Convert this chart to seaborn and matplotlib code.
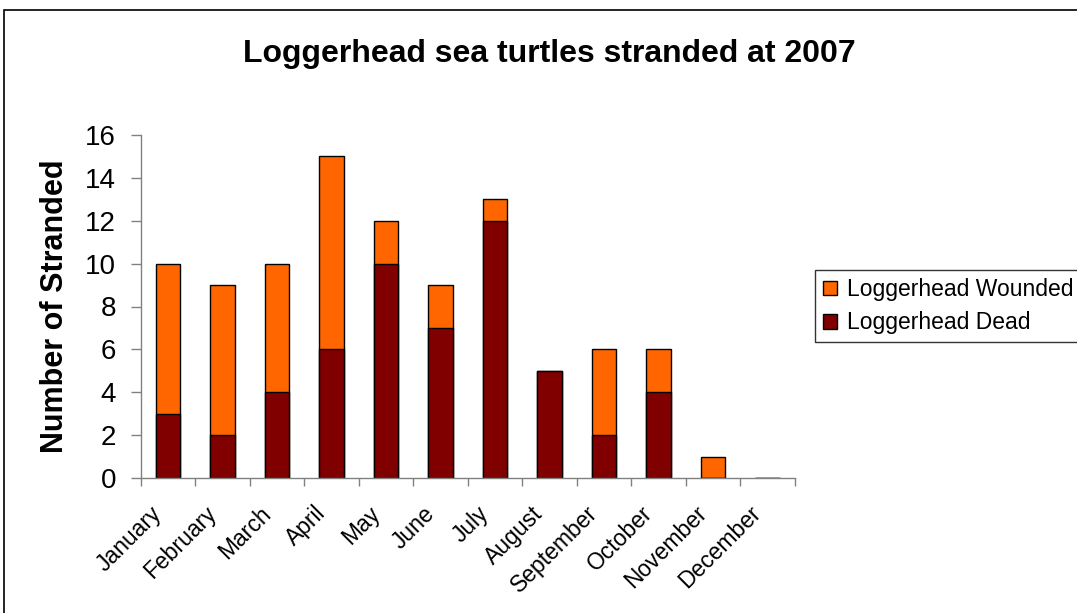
import matplotlib
matplotlib.use('Agg')
import matplotlib.pyplot as plt
import matplotlib.patches as mpatches
from matplotlib.transforms import ScaledTranslation
import seaborn as sns
import pandas as pd

# Data
months = ['January', 'February', 'March', 'April', 'May', 'June', 'July',
          'August', 'September', 'October', 'November', 'December']
dead = [3, 2, 4, 6, 10, 7, 12, 5, 2, 4, 0, 0]
wounded = [7, 7, 6, 9, 2, 2, 1, 0, 4, 2, 1, 0]

df = pd.DataFrame({'month': months, 'dead': dead, 'wounded': wounded})
df['total'] = df['dead'] + df['wounded']

sns.set_style('white')
plt.rcParams['font.family'] = ['Liberation Sans', 'DejaVu Sans']
plt.rcParams['text.color'] = 'black'
plt.rcParams['xtick.color'] = 'black'
plt.rcParams['ytick.color'] = 'black'
plt.rcParams['axes.labelcolor'] = 'black'

orange = '#FF6600'
maroon = '#800000'

fig = plt.figure(figsize=(10.77, 6.13), dpi=100)
ax = fig.add_axes([0.1309, 0.2202, 0.6072, 0.5596])

# stacked bars: draw totals first, then dead on top of it
sns.barplot(data=df, x='month', y='total', color=orange, edgecolor='black',
            linewidth=1, width=0.45, saturation=1, ax=ax)
sns.barplot(data=df, x='month', y='dead', color=maroon, edgecolor='black',
            linewidth=1, width=0.45, saturation=1, ax=ax)

ax.set_xlim(-0.5, 11.5)
ax.set_ylim(0, 16)
ax.set_yticks(range(0, 17, 2))
ax.tick_params(axis='y', labelsize=20, length=7, width=1, color='#808080',
               direction='out', left=True, pad=11)

# ticks on category boundaries
ax.set_xticks([i + 0.5 for i in range(-1, 12)], minor=True)
ax.tick_params(axis='x', which='minor', length=5.5, width=1, color='#808080',
               direction='out', bottom=True)
ax.tick_params(axis='x', which='major', length=0, labelsize=16.5, pad=23)
ax.set_xticks(range(12))
ax.set_xticklabels(months, rotation=45, ha='right', va='center',
                   rotation_mode='anchor')
# Excel puts the end of the rotated label a bit left of the category centre
shift = ScaledTranslation(-0.10, 0, fig.dpi_scale_trans)
for lbl in ax.get_xticklabels():
    lbl.set_transform(lbl.get_transform() + shift)

for side in ['top', 'right']:
    ax.spines[side].set_visible(False)
for side in ['left', 'bottom']:
    ax.spines[side].set_color('#808080')
    ax.spines[side].set_linewidth(1)

ax.set_xlabel('')
ax.set_ylabel('Number of Stranded', fontsize=22, fontweight='bold', labelpad=11)

fig.suptitle('Loggerhead sea turtles stranded at 2007', fontsize=23,
             fontweight='bold', x=0.51, y=1 - 39 / 613)

handles = [mpatches.Patch(facecolor=orange, edgecolor='black', label='Loggerhead Wounded'),
           mpatches.Patch(facecolor=maroon, edgecolor='black', label='Loggerhead Dead')]
leg = fig.legend(handles=handles, loc='upper left',
                 bbox_to_anchor=(815 / 1077, 1 - 270 / 613), borderaxespad=0,
                 fontsize=16.5, frameon=True, fancybox=False,
                 handlelength=0.6, handleheight=0.6, handletextpad=0.45,
                 borderpad=0.35, labelspacing=0.45)
leg.get_frame().set_edgecolor('black')
leg.get_frame().set_linewidth(1)

# outer chart border (cut off at right and bottom)
fig.patches.append(mpatches.Rectangle((4 / 1077, -0.1), 1.2, 1 - 10 / 613 + 0.1,
                                      transform=fig.transFigure, fill=False,
                                      edgecolor='black', linewidth=1.2))

fig.savefig('out.png', dpi=100)
